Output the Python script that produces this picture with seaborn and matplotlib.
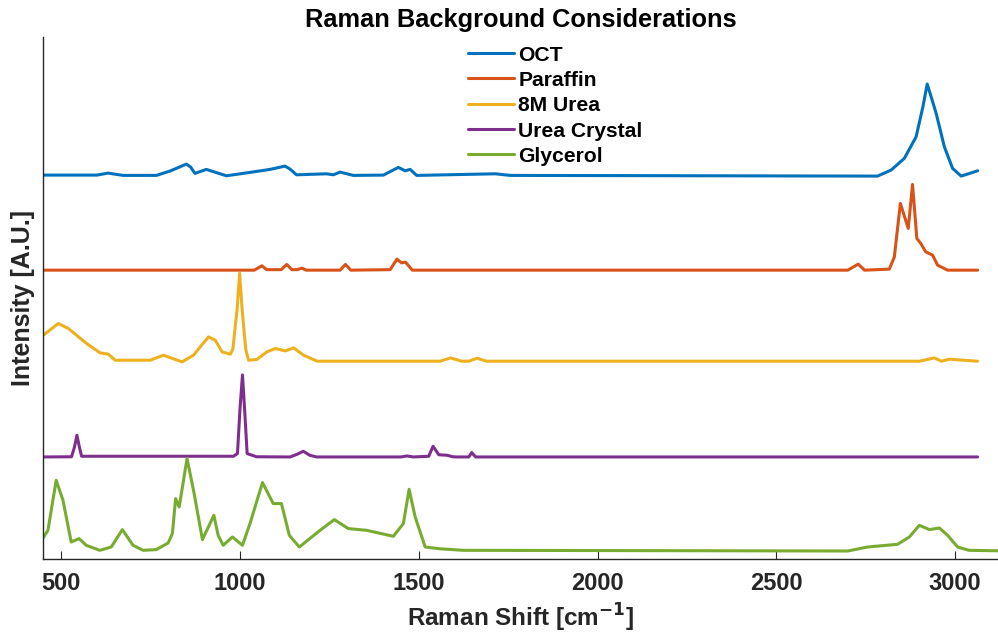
import numpy as np
import pandas as pd
import matplotlib
matplotlib.use("Agg")
import matplotlib.pyplot as plt
import seaborn as sns

# ---- data (wavenumber in cm^-1, stacked intensity in arbitrary units) ----
oct_wn = [450, 600, 631, 673, 766, 804, 850, 862, 874, 906, 962, 1028, 1084, 1126, 1140, 1158,
          1242, 1261, 1280, 1317, 1401, 1443, 1462, 1476, 1494, 1714, 1756, 2783, 2821, 2858,
          2891, 2910, 2922, 2933, 2947, 2970, 2993, 3017, 3063]
oct_y = [384, 384, 386, 383.7, 383.7, 388, 395, 392, 385.7, 389.7, 383.3, 386.7, 389.7, 393, 390, 384.3,
         385.3, 384.3, 387, 383.7, 384, 391.7, 388.3, 389.7, 383.7, 385.3, 383.7, 383, 389, 400.7,
         422.3, 452.3, 475, 462.3, 445.7, 412.3, 390.7, 383, 388.3]

par_wn = [450, 1040, 1061, 1075, 1115, 1131, 1145, 1160, 1173, 1185, 1280, 1295, 1310, 1420, 1439,
          1452, 1463, 1482, 2700, 2729, 2747, 2816, 2830, 2847, 2869, 2881, 2893, 2904, 2918, 2937,
          2951, 2979, 3063]
par_y = [289, 289, 293.3, 289.5, 289.5, 294.7, 289.5, 289.5, 291, 289, 289, 294.7, 289, 289.5, 300,
         296.3, 297, 289, 289, 295, 289, 290, 302, 355.7, 330.7, 374.7, 320.7, 315.7, 307.3, 304,
         294, 289, 289]

urea_wn = [450, 492, 520, 571, 609, 632, 651, 749, 786, 838, 870, 912, 931, 950, 973, 980, 992, 999,
           1006, 1016, 1024, 1047, 1075, 1099, 1127, 1150, 1178, 1216, 1560, 1589, 1620, 1640, 1663,
           1690, 2900, 2942, 2962, 2984, 3063]
urea_y = [224, 235.7, 230.7, 215.7, 206.3, 205, 199, 199, 204, 197.3, 204, 222.3, 219, 207.3, 205, 210,
          250, 286, 250, 210, 199, 199.7, 207.3, 210.7, 208.3, 211.3, 204, 198, 198, 201.3, 198, 198, 201,
          198, 198, 201.3, 198, 200, 198]

cry_wn = [450, 529, 537, 544, 551, 557, 982, 993, 1000, 1007, 1013, 1020, 1046, 1140, 1160, 1177, 1195,
          1214, 1450, 1467, 1485, 1528, 1540, 1556, 1579, 1595, 1607, 1640, 1648, 1659, 3063]
cry_y = [102.3, 102.5, 112, 124, 112, 103, 103, 105.7, 150, 184.3, 150, 105.7, 102.5, 102.3, 105, 108, 104,
         102.3, 102.3, 103.3, 102.3, 103, 113, 104.5, 104, 102.5, 102.3, 102.3, 106.7, 102.3, 102.3]

gly_wn = [450, 463, 486, 505, 528, 550, 570, 608, 640, 671, 701, 729, 766, 799, 811, 820, 830, 852, 871,
          895, 927, 939, 953, 979, 1007, 1028, 1063, 1093, 1116, 1138, 1166, 1224, 1264, 1303, 1354,
          1429, 1457, 1473, 1490, 1518, 1560, 1625, 2700, 2755, 2839, 2872, 2900, 2928, 2956, 2979, 3007,
          3039, 3123]
gly_y = [21.7, 29, 79, 59, 17.3, 20.7, 14, 9, 12.3, 29.7, 14, 9, 9.7, 16.3, 25.7, 60.7, 52.3, 100.7, 67.3,
         19.7, 44, 24, 14, 22.3, 14, 35.7, 76.7, 55.7, 55.7, 24, 12.3, 29, 39.7, 30.7, 29,
         23, 35.7, 70, 42.3, 12.3, 10.5, 9, 8.3, 12.3, 15, 22.3, 34, 29.7, 31.3, 24, 12.3,
         9, 8.5]

labels = ["OCT", "Paraffin", "8M Urea", "Urea Crystal", "Glycerol"]
colors = ["#0072BD", "#D95319", "#EDB120", "#7E2F8E", "#77AC30"]
xticks = [500, 1000, 1500, 2000, 2500, 3000]

series = [(oct_wn, oct_y), (par_wn, par_y), (urea_wn, urea_y), (cry_wn, cry_y), (gly_wn, gly_y)]
frames = []
for lab, (w, v) in zip(labels, series):
    frames.append(pd.DataFrame({"wn": w, "val": v, "sample": lab}))
df = pd.concat(frames, ignore_index=True)

sns.set_theme(style="ticks")
plt.rcParams["font.family"] = ["Liberation Sans", "DejaVu Sans"]

fig = plt.figure(figsize=(9.98, 6.34), dpi=100)
ax = fig.add_axes([0.0434, 0.1178, 0.9566, 0.8238])

sns.lineplot(data=df, x="wn", y="val", hue="sample", hue_order=labels, palette=colors,
             estimator=None, sort=True, linewidth=2.2, ax=ax, legend=True)

ax.set_xlim(450, 3120)
ax.set_ylim(0, 522)
ax.set_xticks(xticks)
ax.set_xticklabels([str(t) for t in xticks])
ax.set_yticks([])
for s in ["top", "right"]:
    ax.spines[s].set_visible(False)
for s in ["left", "bottom"]:
    ax.spines[s].set_color("#262626")
    ax.spines[s].set_linewidth(1.0)
ax.tick_params(axis="x", direction="in", length=6, width=0.8, color="#262626",
               labelsize=17, labelcolor="#262626", pad=9)
for lab in ax.get_xticklabels():
    lab.set_fontweight("bold")

ax.set_xlabel("Raman Shift [cm$^{\\mathbf{-1}}$]", fontsize=17.5, fontweight="bold", color="#262626", labelpad=5)
ax.set_ylabel("Intensity [A.U.]", fontsize=18, fontweight="bold", color="#262626", labelpad=6)
ax.set_title("Raman Background Considerations", fontsize=18.3, fontweight="bold", color="black", pad=7)

handles, _ = ax.get_legend_handles_labels()
leg = ax.legend(handles, labels, loc="upper left", bbox_to_anchor=(0.429, 1.012), frameon=False,
                prop={"weight": "bold", "size": 15.2}, handlelength=2.2, handletextpad=0.2,
                labelspacing=0.3, borderaxespad=0.3)
for t in leg.get_texts():
    t.set_color("black")

fig.savefig("out.png", dpi=100)
